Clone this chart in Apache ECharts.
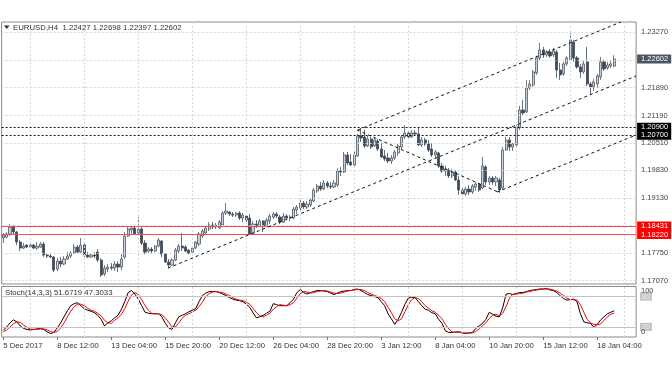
<!DOCTYPE html>
<html><head><meta charset="utf-8">
<script src="https://cdn.jsdelivr.net/npm/echarts@6.0.0/dist/echarts.min.js"></script>
<style>html,body{margin:0;padding:0;background:#fff}#c{width:672px;height:372px}</style>
</head><body><div id="c"></div>
<script>
// ---------- data ----------
const tickLabels = ["5 Dec 2017","8 Dec 12:00","13 Dec 04:00","15 Dec 20:00","20 Dec 12:00","26 Dec 04:00","28 Dec 20:00","3 Jan 12:00","8 Jan 04:00","10 Jan 20:00","15 Jan 12:00","18 Jan 04:00"];
const priceTicks = [1.23270,1.22580,1.21890,1.21190,1.20510,1.19830,1.19130,1.18440,1.17750,1.17070];
const resistanceLevels = [1.20900, 1.20700];
const supportLevels = [1.18431, 1.18220];
const lastPrice = [1.22602];
const stochLevels = [80, 20];
const verticalGridBars = [8,24,40,56,72,88,104,120,136,152,168,184];
const slotCount = 188;

const opens = [
1.1813,1.18155,1.1823,1.18405,1.1828,1.1803,1.1788,1.17955,1.17905,1.17955,
1.1788,1.17905,1.1798,1.17705,1.1768,1.17655,1.17355,1.17555,1.1748,1.17605,
1.1768,1.17755,1.17905,1.1778,1.17955,1.17705,1.17655,1.17705,1.1778,1.1758,
1.1723,1.17355,1.17405,1.1738,1.1748,1.17405,1.17655,1.1818,1.1833,1.1838,
1.18255,1.18355,1.18005,1.17805,1.17855,1.17805,1.1793,1.18055,1.1773,1.1753,
1.17455,1.1758,1.17805,1.1793,1.17905,1.1783,1.1778,1.1788,1.1798,1.1818,
1.18255,1.18355,1.18455,1.18405,1.1838,1.18455,1.18755,1.1878,1.1873,1.18705,
1.18755,1.1863,1.1868,1.1863,1.18255,1.1848,1.1843,1.18555,1.1843,1.18555,
1.18655,1.1873,1.18655,1.1853,1.1868,1.1863,1.1863,1.1883,1.1888,1.19005,
1.18905,1.18955,1.19055,1.19305,1.1943,1.19355,1.19505,1.1943,1.19405,1.19455,
1.19805,1.1978,1.20205,1.2003,1.19955,1.2018,1.2068,1.20655,1.2043,1.20605,
1.2043,1.20555,1.20355,1.2018,1.2013,1.20055,1.2013,1.20255,1.20405,1.20655,
1.20755,1.20655,1.20755,1.2073,1.20455,1.2058,1.2048,1.20355,1.20205,1.20255,
1.1993,1.19805,1.1983,1.1968,1.1978,1.1958,1.1933,1.1923,1.19355,1.1928,
1.19405,1.1948,1.1938,1.19905,1.1953,1.1963,1.1953,1.1958,1.1938,1.2033,
1.2058,1.20405,1.20455,1.2088,1.2133,1.2128,1.2188,1.21955,1.22255,1.2263,
1.2283,1.22705,1.2278,1.22705,1.2278,1.2233,1.2223,1.2248,1.2258,1.2303,
1.2263,1.22405,1.2228,1.2253,1.2198,1.21905,1.2198,1.22155,1.2253,1.2238,
1.2243,1.22427];
const closes = [
1.18205,1.1823,1.18405,1.1828,1.1803,1.1788,1.1793,1.17905,1.17955,1.1788,
1.1793,1.1798,1.17705,1.1768,1.17655,1.1733,1.17555,1.1748,1.17605,1.1768,
1.17755,1.17905,1.1778,1.17955,1.17705,1.17655,1.17705,1.1768,1.1758,1.17205,
1.1738,1.17405,1.1738,1.1748,1.17405,1.17605,1.1818,1.18355,1.1838,1.1823,
1.18355,1.18005,1.1778,1.17855,1.17805,1.1793,1.1808,1.1773,1.1753,1.17455,
1.1758,1.1783,1.1793,1.1788,1.17805,1.17755,1.1788,1.1803,1.1823,1.18305,
1.1838,1.18455,1.18405,1.18455,1.1853,1.18755,1.18805,1.1873,1.18705,1.18755,
1.1863,1.18705,1.1858,1.1823,1.1848,1.1843,1.18555,1.1843,1.1858,1.1868,
1.1873,1.1868,1.1853,1.1868,1.1863,1.18655,1.18855,1.18905,1.19005,1.18905,
1.1898,1.1908,1.1933,1.1943,1.19355,1.19505,1.1943,1.19405,1.19505,1.19805,
1.1978,1.20205,1.20005,1.19955,1.20205,1.2068,1.2063,1.2043,1.20605,1.20405,
1.2058,1.20355,1.20155,1.20105,1.20055,1.2013,1.2028,1.2043,1.20655,1.20755,
1.20655,1.20755,1.2073,1.20455,1.2058,1.2048,1.2033,1.20205,1.2028,1.1993,
1.19805,1.19855,1.1968,1.1978,1.1958,1.1933,1.1923,1.19355,1.1928,1.1943,
1.1948,1.1933,1.1993,1.1953,1.1963,1.1953,1.1963,1.1933,1.2033,1.2058,
1.20405,1.2048,1.20905,1.2133,1.21255,1.2188,1.2198,1.2228,1.2263,1.2283,
1.22705,1.2278,1.2268,1.22805,1.2233,1.22205,1.2248,1.2263,1.2308,1.2263,
1.22405,1.2228,1.2248,1.2198,1.21905,1.2203,1.2218,1.2253,1.22355,1.22455,
1.2248,1.22602];
const highs = [
1.18255,1.1828,1.1848,1.18455,1.18305,1.1808,1.18005,1.1798,1.18005,1.1798,
1.1803,1.1803,1.1803,1.17755,1.1773,1.1768,1.1763,1.17655,1.1768,1.1778,
1.17805,1.1798,1.17955,1.1813,1.18005,1.1778,1.17755,1.1778,1.17855,1.1763,
1.17455,1.1748,1.17505,1.17555,1.17555,1.1773,1.1828,1.1843,1.1843,1.1843,
1.18655,1.18405,1.1808,1.17905,1.17905,1.17955,1.1813,1.1808,1.17755,1.17605,
1.1763,1.1788,1.1798,1.18255,1.17955,1.17855,1.1793,1.18055,1.1828,1.18355,
1.1843,1.1853,1.1853,1.18505,1.1858,1.18805,1.19005,1.18805,1.1878,1.1878,
1.18805,1.18755,1.1873,1.1873,1.18555,1.1858,1.18605,1.1858,1.1863,1.1873,
1.1878,1.1878,1.18705,1.18755,1.1873,1.18705,1.18905,1.18955,1.1908,1.19055,
1.19055,1.1913,1.1938,1.1948,1.1953,1.1958,1.19555,1.1953,1.1958,1.1988,
1.19905,1.2028,1.2028,1.2023,1.2028,1.2073,1.2088,1.2083,1.2068,1.20655,
1.20655,1.20605,1.20505,1.2033,1.20255,1.20205,1.2033,1.2048,1.20705,1.20955,
1.20805,1.2083,1.2083,1.2088,1.20655,1.2063,1.2058,1.20505,1.2033,1.2028,
1.20005,1.1993,1.1988,1.19855,1.1983,1.1968,1.1943,1.19405,1.19455,1.1948,
1.1953,1.19505,1.20155,1.19955,1.1968,1.1968,1.1968,1.1963,1.20405,1.20655,
1.20655,1.20505,1.20955,1.2143,1.2158,1.2208,1.2208,1.2233,1.2268,1.23005,
1.22905,1.2283,1.22855,1.2288,1.2283,1.22505,1.2253,1.2268,1.23255,1.2308,
1.2268,1.2248,1.22555,1.22905,1.2203,1.22105,1.2223,1.22655,1.2258,1.2253,
1.22555,1.22698];
const lows = [
1.18005,1.1813,1.1818,1.1823,1.17955,1.17805,1.17855,1.1788,1.1788,1.17855,
1.1783,1.1788,1.17655,1.1763,1.1763,1.1728,1.17305,1.17405,1.17455,1.1758,
1.1763,1.1773,1.17755,1.17755,1.17655,1.1763,1.1763,1.1763,1.1753,1.17155,
1.1718,1.1728,1.1733,1.17305,1.1728,1.1733,1.17605,1.18155,1.1823,1.18205,
1.18205,1.17955,1.1773,1.17755,1.17755,1.1778,1.17905,1.17655,1.17505,1.1738,
1.1743,1.17555,1.17755,1.17805,1.1778,1.1773,1.17755,1.17855,1.1793,1.1813,
1.1823,1.18305,1.18355,1.18355,1.18355,1.1843,1.18705,1.1868,1.18655,1.18655,
1.1858,1.1853,1.18505,1.18205,1.1823,1.1838,1.18405,1.1828,1.18405,1.1848,
1.18605,1.1863,1.1848,1.18505,1.18605,1.18555,1.18605,1.1873,1.18805,1.18855,
1.18855,1.18905,1.1903,1.19255,1.19305,1.1933,1.1938,1.19355,1.1938,1.19405,
1.1968,1.19755,1.19955,1.1993,1.1993,1.20155,1.2053,1.2038,1.20405,1.20355,
1.20405,1.20305,1.2013,1.20055,1.20005,1.1998,1.2008,1.2018,1.20355,1.20605,
1.20605,1.2063,1.2068,1.2043,1.20405,1.2043,1.2028,1.20155,1.2013,1.1988,
1.19755,1.1968,1.1963,1.1963,1.19555,1.19205,1.1918,1.1918,1.19205,1.1923,
1.19305,1.1928,1.19355,1.19455,1.19455,1.19455,1.1943,1.19255,1.1933,1.20305,
1.20305,1.20305,1.20405,1.2083,1.2118,1.21255,1.2183,1.21905,1.22205,1.2258,
1.2263,1.22655,1.2263,1.22655,1.2213,1.2208,1.2218,1.2243,1.22555,1.2253,
1.22355,1.2213,1.2223,1.2193,1.21705,1.21805,1.2188,1.2208,1.22305,1.2233,
1.2238,1.22397];
const stochK = [
13,20,28,34,30,22,17,15,14,15,
16,17,15,10,7,9,18,28,40,52,
62,66,68,62,56,53,51,48,43,35,
22,28,32,38,43,55,70,88,92,85,
75,62,49,47,46,46,46,40,27,18,
15,28,40,43,46,50,53,56,70,82,
87,90,90,90,88,85,82,78,75,73,
72,70,65,59,48,38,40,43,47,51,
66,64,62,62,62,68,75,88,94,88,
85,88,90,92,92,91,90,87,84,87,
90,91,92,92,94,95,92,88,84,82,
80,78,70,62,46,36,25,35,49,65,
77,79,78,70,62,55,53,48,46,35,
27,12,9,9,10,10,8,7,8,9,
17,22,27,35,49,45,41,40,59,85,
86,84,86,88,88,90,92,93,94,95,
95,96,93,92,88,82,76,73,74,75,
70,46,30,28,27,19,25,34,40,46,
49,51.6719];
const stochD = [
10,14,20,26,30,29,24,19,16,15,
15,16,16,14,11,9,11,18,28,40,
51,60,65,65,62,57,53,51,47,42,
33,28,27,33,38,45,56,71,83,88,
84,74,62,53,47,46,46,44,38,29,
20,20,28,37,43,46,50,53,60,69,
80,86,89,90,89,88,85,82,78,75,
73,72,69,65,57,48,42,40,43,47,
55,60,64,63,62,64,68,77,86,90,
89,87,88,90,91,92,91,89,87,86,
87,89,91,92,93,94,94,92,88,85,
82,80,76,70,59,48,36,32,36,50,
64,74,78,76,70,62,57,52,49,43,
36,25,16,10,9,10,9,8,8,8,
11,16,22,28,37,43,45,42,47,61,
77,85,85,86,87,89,90,92,93,94,
95,95,95,93,91,87,82,77,74,74,
73,64,49,35,28,25,24,26,33,40,
45,47.3033];
// trend lines: [bar position, price] end points
const channelLow1 = [[48.8, 1.1738], [187.5, 1.2218]];
const channelHigh = [[105.1, 1.2083], [183.0, 1.23527]];
const descLine = [[104.8, 1.2083], [146.6, 1.1928]];
const channelLow2 = [[146.3, 1.1928], [187.5, 1.20705]];

// ---------- chart ----------
const FONT = 'Liberation Sans';
const candleData = opens.map((o, i) => [o, closes[i], lows[i], highs[i]]);
const cats = Array.from({length: slotCount}, (_, i) => String(i));

function levelSeries(values, xi, yi, lineStyle, label, z) {
  return {
    type: 'line', xAxisIndex: xi, yAxisIndex: yi, data: [], z: z, clip: false, silent: true,
    markLine: {
      silent: true, symbol: ['none', 'none'], animation: false, precision: 6,
      lineStyle: lineStyle, label: label,
      data: values.map(v => ({yAxis: v}))
    }
  };
}
function vSeries(values, xi, yi) {
  return {
    type: 'line', xAxisIndex: xi, yAxisIndex: yi, data: [], z: 1, clip: false, silent: true,
    markLine: {
      silent: true, symbol: ['none', 'none'], animation: false, precision: 3,
      lineStyle: {color: '#d5d8db', width: 1, type: [2, 2]}, label: {show: false},
      data: values.map(v => ({xAxis: v}))
    }
  };
}
function trend(pts) {
  return {
    type: 'line', xAxisIndex: 2, yAxisIndex: 0, data: pts, z: 5, showSymbol: false, silent: true,
    clip: true, lineStyle: {color: '#111', width: 1, type: [3, 3]}
  };
}
const boxLabel = (bg, fg) => ({
  show: true, position: 'end', distance: 1, color: fg, backgroundColor: bg,
  padding: [1, 3, 0, 4], fontSize: 7.5, fontFamily: FONT,
  formatter: p => Number(p.value).toFixed(5)
});

const option = {
  animation: false,
  backgroundColor: '#ffffff',
  grid: [
    {left: 1.6, top: 22, width: 634.5, height: 262, show: true, borderColor: '#8a8a8a', borderWidth: 1, backgroundColor: '#fff'},
    {left: 1.6, top: 286.5, width: 634.5, height: 50.5, show: true, borderColor: '#8a8a8a', borderWidth: 1, backgroundColor: '#fff'}
  ],
  xAxis: [
    {type: 'category', gridIndex: 0, data: cats, boundaryGap: true, show: false},
    {type: 'category', gridIndex: 1, data: cats, boundaryGap: true,
      axisLine: {show: false},
      axisTick: {show: true, interval: (i) => i % 16 === 0, alignWithLabel: true, length: 3, lineStyle: {color: '#777'}},
      axisLabel: {show: true, interval: (i) => i % 16 === 0, showMinLabel: true, showMaxLabel: true, hideOverlap: false,
        formatter: (v, i) => tickLabels[i / 16] || '', align: 'left', margin: 5,
        fontSize: 7.7, fontFamily: FONT, color: '#333'},
      splitLine: {show: false}},
    {type: 'value', gridIndex: 0, min: -0.5, max: slotCount - 0.5, show: false},
    {type: 'value', gridIndex: 1, min: -0.5, max: slotCount - 0.5, show: false}
  ],
  yAxis: [
    {type: 'value', gridIndex: 0, position: 'right', min: 1.16982, max: 1.23527, scale: true,
      axisLine: {show: false}, axisTick: {show: false}, axisLabel: {show: false}, splitLine: {show: false}},
    {type: 'value', gridIndex: 1, position: 'right', min: 0, max: 100,
      axisLine: {show: false}, axisTick: {show: false}, axisLabel: {show: false}, splitLine: {show: false}}
  ],
  graphic: [
    {type: 'polygon', shape: {points: [[4, 25.5], [9.5, 25.5], [6.75, 29]]}, style: {fill: '#333'}, z: 100},
    {type: 'text', left: 13, top: 23.5, z: 100, style: {text: 'EURUSD,H4  1.22427 1.22698 1.22397 1.22602', font: '7.8px "Liberation Sans"', fill: '#333'}},
    {type: 'text', left: 5, top: 289, z: 100, style: {text: 'Stoch(14,3,3) 51.6719 47.3033', font: '7.8px "Liberation Sans"', fill: '#333'}},
    {type: 'text', left: 641, top: 287, z: 100, style: {text: '100', font: '7.5px "Liberation Sans"', fill: '#444'}},
    {type: 'text', left: 641, top: 328, z: 100, style: {text: '0', font: '7.5px "Liberation Sans"', fill: '#444'}}
  ],
  series: [
    levelSeries(priceTicks, 2, 0, {color: '#d5d8db', width: 1, type: [2, 2]},
      {show: true, position: 'end', distance: 5, color: '#444', fontSize: 7.5, fontFamily: FONT,
       formatter: p => Number(p.value).toFixed(5)}, 1),
    vSeries(verticalGridBars, 2, 0),
    vSeries(verticalGridBars, 3, 1),
    {type: 'candlestick', xAxisIndex: 0, yAxisIndex: 0, data: candleData, z: 3, barWidth: 2.6,
      itemStyle: {color: '#c8cfd6', color0: '#3e4b5a', borderColor: '#4e5a67', borderColor0: '#3e4b5a', borderWidth: 0.8}},
    trend(channelLow1), trend(channelHigh), trend(descLine), trend(channelLow2),
    levelSeries(resistanceLevels, 2, 0, {color: '#111', width: 1, type: [2, 2]}, boxLabel('#000', '#fff'), 6),
    levelSeries(supportLevels, 2, 0, {color: '#f45050', width: 1.2, type: 'solid'}, boxLabel('#ff0000', '#fff'), 6),
    levelSeries(lastPrice, 2, 0, {color: 'rgba(0,0,0,0)', width: 1}, boxLabel('#4a5662', '#fff'), 7),
    levelSeries(stochLevels, 3, 1, {color: '#c4c4c4', width: 1, type: 'solid'},
      {show: true, position: 'end', distance: 4, color: '#f2f2f2', backgroundColor: '#c2c2c2',
       padding: [1, 2, 0, 2], fontSize: 7, fontFamily: FONT, formatter: p => String(p.value)}, 2),
    {type: 'line', xAxisIndex: 1, yAxisIndex: 1, data: stochK, showSymbol: false, z: 4,
      lineStyle: {color: '#000', width: 1}},
    {type: 'line', xAxisIndex: 1, yAxisIndex: 1, data: stochD, showSymbol: false, z: 4,
      lineStyle: {color: '#ff0000', width: 1}}
  ]
};
const chart = echarts.init(document.getElementById('c'), null, {renderer: 'canvas', width: 672, height: 372});
chart.setOption(option);
</script>
</body></html>
